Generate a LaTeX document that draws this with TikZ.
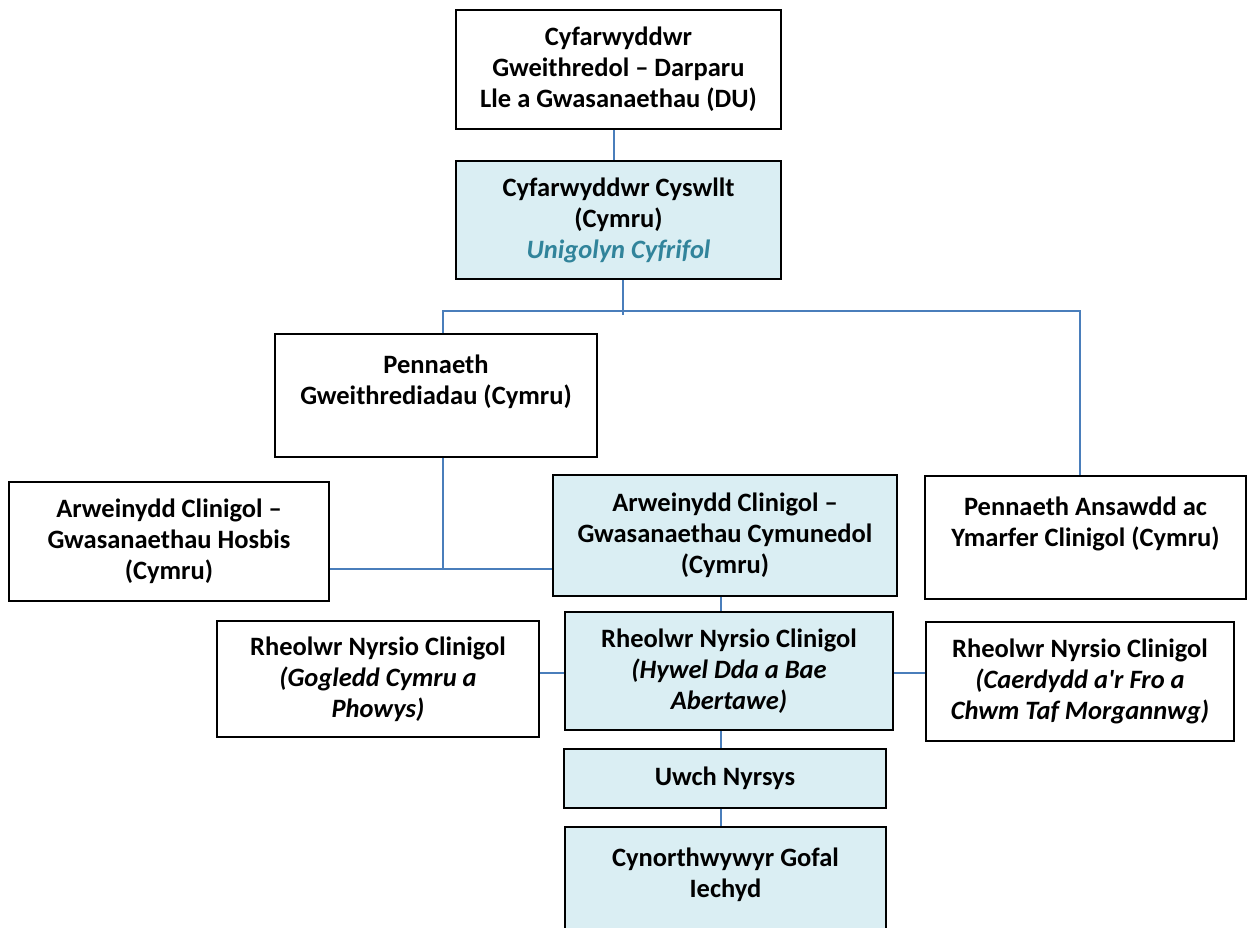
\documentclass[tikz,border=0pt]{standalone}
\usepackage{fontspec}
\setmainfont{Carlito}
\newfontfamily\calfont{Carlito}
\definecolor{boxfill}{HTML}{DAEEF3}
\definecolor{tealtext}{HTML}{31849B}
\definecolor{linkblue}{HTML}{4A7EBB}
\begin{document}
\begin{tikzpicture}[x=1pt,y=-1pt,
  box/.style={draw=black,line width=1.5pt,fill=white,inner sep=0pt,align=center,
    font=\calfont\fontsize{26.5}{31}\selectfont\bfseries},
  bluebox/.style={box,fill=boxfill},
  link/.style={draw=linkblue,line width=1.6pt}]
\useasboundingbox (0,0) rectangle (1247,927);
\clip (0,0) rectangle (1247,927);
\node[box,minimum width=325pt,minimum height=119pt] (top) at (618.5,69.5)
  {Cyfarwyddwr\\Gweithredol – Darparu\\Lle a Gwasanaethau (DU)};
\node[bluebox,minimum width=325pt,minimum height=118pt] (cyswllt) at (618.5,220)
  {Cyfarwyddwr Cyswllt\\(Cymru)\\{\itshape\color{tealtext}Unigolyn Cyfrifol}};
\node[box,minimum width=322pt,minimum height=123pt] (peng) at (436,395.5)
  {Pennaeth\\Gweithrediadau (Cymru)\\\mbox{}};
\node[box,minimum width=320pt,minimum height=119pt] (hosbis) at (169,541.5)
  {Arweinydd Clinigol –\\Gwasanaethau Hosbis\\(Cymru)};
\node[bluebox,minimum width=344pt,minimum height=121pt] (cymun) at (725,535.5)
  {Arweinydd Clinigol –\\Gwasanaethau Cymunedol\\(Cymru)};
\node[box,minimum width=321pt,minimum height=123pt] (ansawdd) at (1085.5,537.5)
  {Pennaeth Ansawdd ac\\Ymarfer Clinigol (Cymru)\\\mbox{}};
\node[bluebox,minimum width=328pt,minimum height=118pt] (hywel) at (729,671)
  {Rheolwr Nyrsio Clinigol\\\textit{(Hywel Dda a Bae}\\\textit{Abertawe)}};
\node[box,minimum width=322pt,minimum height=116pt] (gogledd) at (378,679)
  {Rheolwr Nyrsio Clinigol\\\textit{(Gogledd Cymru a}\\\textit{Phowys)}};
\node[box,minimum width=308pt,minimum height=119pt] (caerdydd) at (1080,681.5)
  {Rheolwr Nyrsio Clinigol\\\textit{(Caerdydd a'r Fro a}\\\textit{Chwm Taf Morgannwg)}};
\node[bluebox,minimum width=322pt,minimum height=59pt] (uwch) at (725,778.5)
  {Uwch Nyrsys};
\node[bluebox,minimum width=321pt,minimum height=123pt] (cynor) at (725.5,888.5)
  {Cynorthwywyr Gofal\\Iechyd\\\mbox{}};
\coordinate (spine) at (721,0);
\coordinate (bar) at (623,311);
\coordinate (j2) at (443,569);
\coordinate (side) at (0,673);
% connectors
\draw[link] ([xshift=-4.5pt]top.south) -- ([xshift=-4.5pt]cyswllt.north);
\draw[link] ([xshift=4.5pt]cyswllt.south) -- ++(0,35);
\draw[link] ([xshift=7pt]peng.north) |- (bar) -| ([xshift=-5.5pt]ansawdd.north);
\draw[link] ([xshift=7pt]peng.south) -- (j2);
\draw[link] (hosbis.east |- j2) -- (cymun.west |- j2);
\draw[link] (cymun.south -| spine) -- (hywel.north -| spine);
\draw[link] (hywel.south -| spine) -- (uwch.north -| spine);
\draw[link] (uwch.south -| spine) -- (cynor.north -| spine);
\draw[link] (hywel.west |- side) -- (gogledd.east |- side);
\draw[link] (hywel.east |- side) -- (caerdydd.west |- side);
\end{tikzpicture}
\end{document}
